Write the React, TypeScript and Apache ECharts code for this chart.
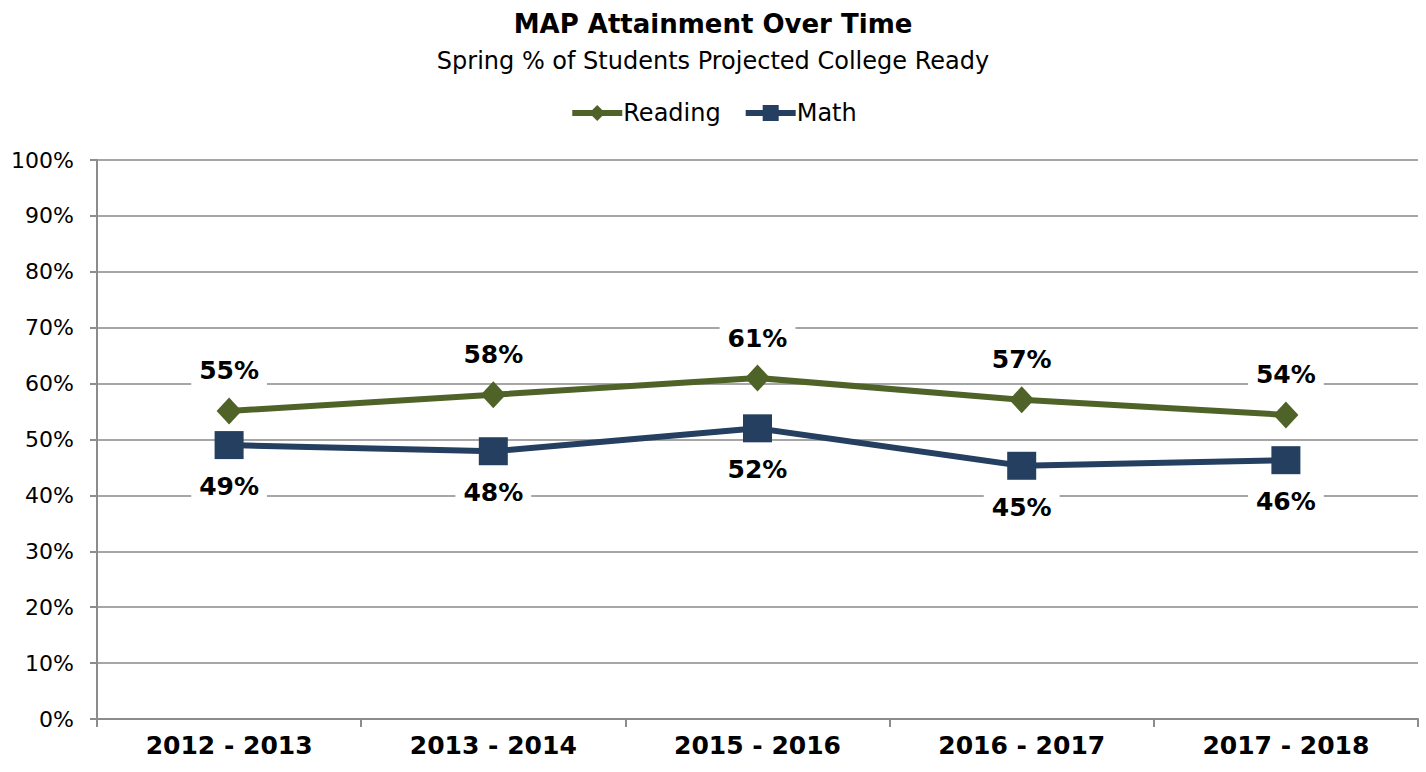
import React, { useEffect, useRef } from "react";
import * as echarts from "echarts";

const categories = ["2012 - 2013", "2013 - 2014", "2015 - 2016", "2016 - 2017", "2017 - 2018"];
const readingValues = [55.1, 58.0, 61.0, 57.1, 54.4];
const mathValues = [49.0, 47.9, 52.0, 45.3, 46.3];
const yTicks = [0, 10, 20, 30, 40, 50, 60, 70, 80, 90, 100];

const FONT = "DejaVu Sans";
const READING = "#4F6228";
const MATH = "#243F60";
const AXIS = "#8C8C8C";

export default function App() {
  const ref = useRef<HTMLDivElement>(null);
  useEffect(() => {
    if (!ref.current) return;
    const chart = echarts.init(ref.current, null, { renderer: "svg" });
    const labelBase = {
      show: true,
      formatter: (p: any) => Math.round(p.value) + "%",
      fontFamily: FONT,
      fontWeight: "bold" as const,
      fontSize: 25,
      color: "#000",
      backgroundColor: "#fff",
      padding: [2, 8],
    };
    chart.setOption({
      animation: false,
      backgroundColor: "#fff",
      title: [
        {
          text: "MAP Attainment Over Time",
          left: "center",
          top: 6,
          textStyle: { fontFamily: FONT, fontWeight: "bold", fontSize: 26, color: "#000" },
        },
        {
          text: "Spring % of Students Projected College Ready",
          left: "center",
          top: 44,
          textStyle: { fontFamily: FONT, fontWeight: "normal", fontSize: 24, color: "#000" },
        },
      ],
      legend: {
        top: 96,
        left: "center",
        itemWidth: 50,
        itemHeight: 20,
        itemGap: 22,
        lineStyle: { width: 6 },
        textStyle: { fontFamily: FONT, fontSize: 24, color: "#000", padding: [0, 0, 0, -4] },
        data: ["Reading", "Math"],
      },
      grid: { left: 97, right: 8, top: 160, bottom: 53, containLabel: false },
      xAxis: {
        type: "category",
        data: categories,
        boundaryGap: true,
        axisLine: { lineStyle: { color: AXIS, width: 2 } },
        axisTick: { show: true, length: 8, lineStyle: { color: AXIS, width: 2 } },
        axisLabel: { fontFamily: FONT, fontWeight: "bold", fontSize: 25, color: "#000", margin: 14 },
      },
      yAxis: {
        type: "value",
        min: 0,
        max: 100,
        interval: 10,
        axisLine: { show: true, lineStyle: { color: AXIS, width: 2 } },
        axisTick: { show: true, length: 7, lineStyle: { color: AXIS, width: 2 } },
        axisLabel: {
          fontFamily: FONT,
          fontSize: 22,
          color: "#000",
          margin: 23,
          formatter: (v: number) => (yTicks.includes(v) ? v + "%" : ""),
        },
        splitLine: { show: true, lineStyle: { color: "#A6A6A6", width: 2 } },
      },
      series: [
        {
          name: "Reading",
          type: "line",
          data: readingValues,
          symbol: "diamond",
          symbolSize: [25, 27],
          lineStyle: { color: READING, width: 6 },
          itemStyle: { color: READING },
          label: { ...labelBase, position: "top", distance: 12 },
          z: 3,
        },
        {
          name: "Math",
          type: "line",
          data: mathValues,
          symbol: "rect",
          symbolSize: [29, 28],
          lineStyle: { color: MATH, width: 6 },
          itemStyle: { color: MATH },
          label: { ...labelBase, position: "bottom", distance: 13 },
          z: 3,
        },
      ],
    });
    return () => chart.dispose();
  }, []);
  return (
    <div
      ref={ref}
      style={{ position: "fixed", left: 0, top: 0, width: 1426, height: 772, background: "#fff" }}
    />
  );
}
